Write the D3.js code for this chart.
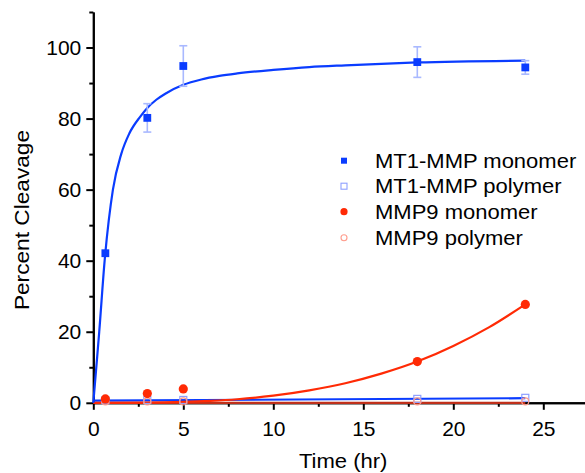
<!DOCTYPE html>
<html><head><meta charset="utf-8">
<script src="https://cdn.jsdelivr.net/npm/d3@7"></script>
<style>body{margin:0;background:#fff} svg{display:block} text{font-family:"Liberation Sans",Arial,sans-serif}</style>
</head><body><svg id="c" width="585" height="473"></svg>
<script>
// Data
const times = [0.67, 3, 5, 18, 24];
const mt1Monomer = [42.1, 80.2, 94.8, 95.9, 94.4];
const mt1MonomerErr = [0, 4.0, 5.7, 4.3, 1.9];
const mt1Polymer = [0.7, 0.8, 0.8, 1.1, 1.4];
const mmp9Monomer = [1.1, 2.6, 3.9, 11.6, 27.7];
const mmp9Polymer = [0.4, 0.4, 0.4, 0.4, 0.4];
// fitted curves
const mt1MonoFitT = [0, 0.2, 0.33, 0.63, 1.09, 1.55, 2.0, 2.6, 3, 3.5, 4, 5, 6, 7, 8, 10, 12, 14, 18, 24];
const mt1MonoFitY = [0, 12, 20, 40, 60, 70, 75.8, 80.5, 83, 85.3, 87, 89.5, 91, 92, 92.7, 93.7, 94.5, 95, 95.8, 96.3];
const mt1PolyFitT = [0, 24];
const mt1PolyFitY = [0.6, 1.3];
const mmp9MonoFitT = [0, 3, 5, 6.5, 8, 10, 12, 14, 16, 18, 20, 22, 24];
const mmp9MonoFitY = [0, 0.05, 0.25, 0.55, 1.0, 2.0, 3.5, 5.5, 8.2, 11.6, 16.0, 21.3, 27.7];
const mmp9PolyFitT = [0, 24];
const mmp9PolyFitY = [0, 0];
const xMajor = [0, 5, 10, 15, 20, 25];
const xMinor = [2.5, 7.5, 12.5, 17.5, 22.5];
const yMajor = [0, 20, 40, 60, 80, 100];
const yMinor = [10, 30, 50, 70, 90, 110];
const legendLabels = ["MT1-MMP monomer", "MT1-MMP polymer", "MMP9 monomer", "MMP9 polymer"];

const blue = "#0a3cff", blueLight = "#8fa0ff", errColor = "#a9b9ff";
const red = "#ff2a05", redLight = "#ff9c8c";

const svg = d3.select("#c");
const x = d3.scaleLinear().domain([0, 27.5]).range([93.3, 588.3]);
const y = d3.scaleLinear().domain([0, 110]).range([402.8, 12]);

// axes
const axG = svg.append("g");
function styleAxis(g){ g.select(".domain").attr("stroke","#000").attr("stroke-width",2); g.selectAll(".tick line").attr("stroke","#000").attr("stroke-width",2); g.selectAll("text").attr("font-size",21).attr("fill","#000"); }
axG.append("g").attr("transform",`translate(0,${y(0)})`)
  .call(d3.axisBottom(x).tickValues(xMinor).tickSize(4).tickSizeOuter(0).tickFormat(""))
  .call(styleAxis);
axG.append("g").attr("transform",`translate(0,${y(0)})`)
  .call(d3.axisBottom(x).tickValues(xMajor).tickSize(7).tickSizeOuter(0).tickPadding(11).tickFormat(d3.format("d")))
  .call(styleAxis);
axG.append("g").attr("transform",`translate(${x(0)},0)`)
  .call(d3.axisLeft(y).tickValues(yMinor).tickSize(4).tickSizeOuter(0).tickFormat(""))
  .call(styleAxis);
axG.append("g").attr("transform",`translate(${x(0)},0)`)
  .call(d3.axisLeft(y).tickValues(yMajor).tickSize(7).tickSizeOuter(0).tickPadding(5).tickFormat(d3.format("d")))
  .call(styleAxis);

// axis titles
svg.append("text").attr("x",(x(0)+585)/2+4).attr("y",468).attr("text-anchor","middle").attr("font-size",21)
  .attr("transform",`translate(${-0.05*343},0) scale(1.05,1)`).text("Time (hr)");
svg.append("text").attr("transform","translate(29,220) rotate(-90) scale(1.08,1)").attr("text-anchor","middle").attr("font-size",21).text("Percent Cleavage");

// fit lines
const line = d3.line().x(d=>x(d[0])).y(d=>y(d[1])).curve(d3.curveMonotoneX);
function fit(T, Y, color){ svg.append("path").datum(d3.zip(T,Y)).attr("d",line).attr("fill","none").attr("stroke",color).attr("stroke-width",2.2); }
fit(mmp9PolyFitT, mmp9PolyFitY, "#c0301a");
fit(mt1PolyFitT, mt1PolyFitY, blue);
fit(mmp9MonoFitT, mmp9MonoFitY, red);
fit(mt1MonoFitT, mt1MonoFitY, blue);

// error bars
const eb = svg.append("g").attr("stroke",errColor).attr("stroke-width",1.6);
times.forEach((t,i)=>{
  const e = mt1MonomerErr[i]; if(!e) return;
  const cx = x(t), y1 = y(mt1Monomer[i]+e), y2 = y(mt1Monomer[i]-e);
  eb.append("line").attr("x1",cx).attr("x2",cx).attr("y1",y1).attr("y2",y2);
  eb.append("line").attr("x1",cx-4).attr("x2",cx+4).attr("y1",y1).attr("y2",y1);
  eb.append("line").attr("x1",cx-4).attr("x2",cx+4).attr("y1",y2).attr("y2",y2);
});

// markers
const m = svg.append("g");
times.forEach((t,i)=>{
  m.append("rect").attr("x",x(t)-3.5).attr("y",y(mt1Polymer[i])-3.5).attr("width",7).attr("height",7).attr("fill","none").attr("stroke",blueLight).attr("stroke-width",1.2);
  m.append("circle").attr("cx",x(t)).attr("cy",y(mmp9Polymer[i])).attr("r",3.5).attr("fill","none").attr("stroke",redLight).attr("stroke-width",1.2);
});
times.forEach((t,i)=>{
  m.append("circle").attr("cx",x(t)).attr("cy",y(mmp9Monomer[i])).attr("r",4.6).attr("fill",red);
  m.append("rect").attr("x",x(t)-3.9).attr("y",y(mt1Monomer[i])-3.9).attr("width",7.8).attr("height",7.8).attr("fill",blue);
});

// legend
const lg = svg.append("g");
const rowY = [160.7, 186.2, 211.7, 237.7];
legendLabels.forEach((lab,i)=>{
  const cy = rowY[i], cx = 344;
  if(i===0) lg.append("rect").attr("x",cx-3).attr("y",cy-3).attr("width",6).attr("height",6).attr("fill",blue);
  if(i===1) lg.append("rect").attr("x",cx-3).attr("y",cy-3).attr("width",6).attr("height",6).attr("fill","none").attr("stroke",blueLight).attr("stroke-width",1.1);
  if(i===2) lg.append("circle").attr("cx",cx).attr("cy",cy).attr("r",3.6).attr("fill",red);
  if(i===3) lg.append("circle").attr("cx",cx).attr("cy",cy).attr("r",3).attr("fill","none").attr("stroke",redLight).attr("stroke-width",1.1);
  lg.append("text").attr("transform",`translate(375,${cy+7}) scale(1.1,1)`).attr("font-size",20).text(lab);
});
</script></body></html>
